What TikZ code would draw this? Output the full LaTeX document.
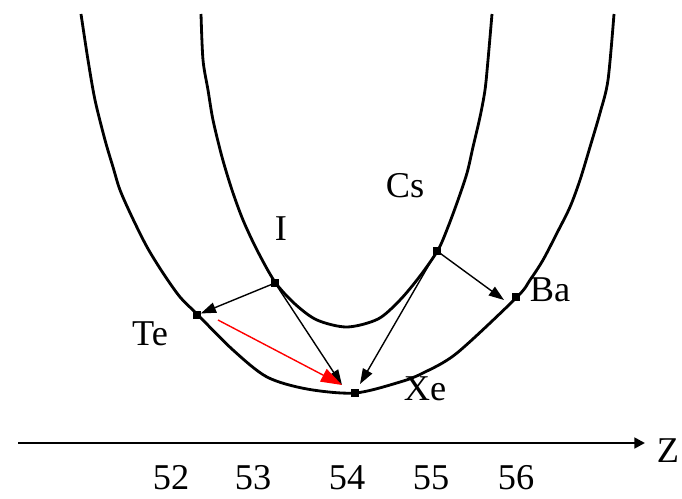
\documentclass[tikz,border=0pt]{standalone}
\usepackage{fontspec}
\setmainfont{Liberation Serif}
\usetikzlibrary{arrows.meta}

\begin{document}
\begin{tikzpicture}[
        x=0.03cm, y=-0.03cm,
        curve/.style={line width=2.4pt, draw=black},
        dot/.style={rectangle, fill=black, inner sep=0pt, minimum size=6pt},
        lbl/.style={font=\fontsize{31}{36}\selectfont, inner sep=0pt},
        arrow/.style={-{Triangle[length=13pt, width=9pt]}, line width=1.2pt, draw=black},
        redarrow/.style={-{Triangle[length=18pt, width=12pt]}, line width=1.2pt, draw=red, fill=red},
        axis/.style={-{Triangle[length=9pt, width=9pt]}, line width=2.4pt, draw=black}
    ]
    \useasboundingbox (0,0) rectangle (682,498);
    % even-even parabola
    \draw[curve] plot[smooth, tension=0.5] coordinates {(81,14) (88,60) (95,100) (105,140) (113,167) (120,190) (132,217) (147,247) (163,273) (180,297) (197,314) (233,350) (267,377) (307,389) (355,393) (400,382) (423,373) (457,353) (517,297) (530,280) (543,260) (557,233) (570,207) (580,180) (590,147) (600,113) (608,80) (614,14)};
    % odd-odd parabola
    \draw[curve] plot[smooth, tension=0.5] coordinates {(201,14) (203,60) (208,90) (213,120) (222,157) (232,190) (243,220) (257,250) (275,282) (295,304) (317,320) (347,327) (378,319) (400,300) (420,276) (438,250) (448,227) (458,200) (467,173) (473,147) (480,117) (485,90) (488,60) (492,14)};
    \node[dot] (Te) at (197,315) {};
    \node[dot] (I) at (275,283) {};
    \node[dot, minimum size=7pt] (Xe) at (355,393) {};
    \node[dot] (Cs) at (437,251) {};
    \node[dot] (Ba) at (516,297) {};
    \node[lbl] (teL) at (150,334) {Te};
    \node[lbl] (iL) at (281,229) {I};
    \node[lbl] (xeL) at (425,389) {Xe};
    \node[lbl] (csL) at (405,186) {Cs};
    \node[lbl] (baL) at (550,290) {Ba};
    \coordinate (xeA) at (342,385);
    \coordinate (xeB) at (360,384);
    \coordinate (baA) at (504,300);
    \coordinate (teA) at (218,320);
    \draw[arrow] (I) -- (Te);
    \draw[arrow] (I) -- (xeA);
    \draw[arrow] (Cs) -- (xeB);
    \draw[arrow] (Cs) -- (baA);
    \draw[redarrow] (teA) -- (xeA);
    % Z axis
    \coordinate (zL) at (18,443);
    \coordinate (zR) at (645,443);
    \draw[axis] (zL) -- (zR);
    \node[lbl] (zT) at (668,451) {Z};
    \foreach \n/\x in {52/171, 53/253, 54/347, 55/431, 56/516}
        \node[lbl] (n\n) at (\x,478) {\n};
\end{tikzpicture}
\end{document}
